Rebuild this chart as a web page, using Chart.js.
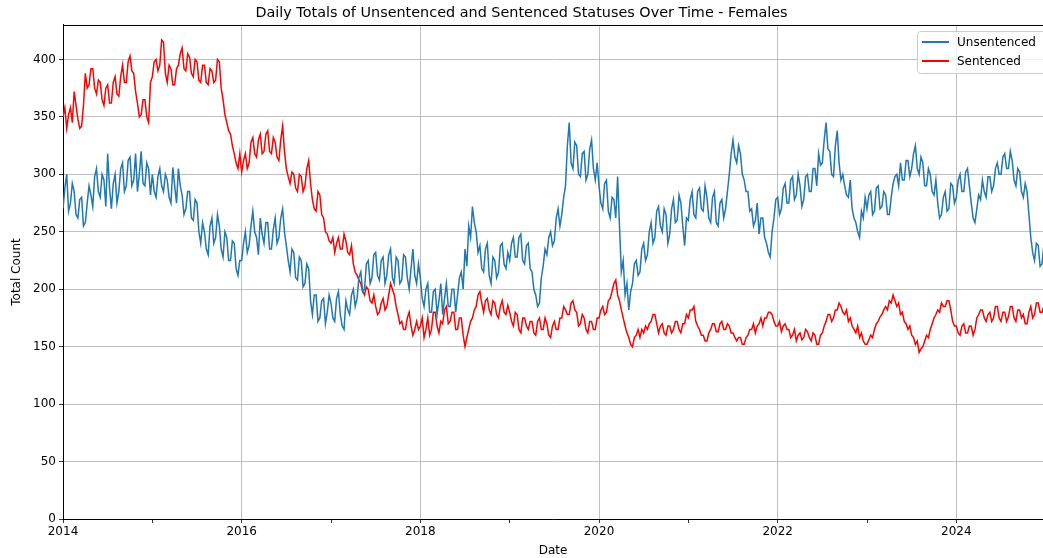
<!DOCTYPE html>
<html>
<head>
<meta charset="utf-8">
<script src="https://cdn.jsdelivr.net/npm/chart.js@4.4.1/dist/chart.umd.min.js"></script>
<style>
html,body{margin:0;padding:0;background:#fff;}
#wrap{position:relative;width:1043px;height:558px;}
</style>
</head>
<body>
<div id="wrap"><canvas id="c" width="1043" height="558"></canvas></div>
<script>
// ---- data: readings every ~1/48 year (about weekly), per calendar year ----
const years = [2014,2015,2016,2017,2018,2019,2020,2021,2022,2023,2024];
const tickYears = [2014,2016,2018,2020,2022,2024];
const yTicks = [0,50,100,150,200,250,300,350,400];
const readingsPerYear = 48;

const unsentenced2014 = [270,288,300,268,275,292,285,265,262,278,280,255,258,275,290,282,272,298,305,285,280,300,295,272,318,288,270,292,300,275,285,305,310,285,290,312,315,290,295,318,285,300,320,292,290,310,305,282];
const unsentenced2015 = [300,285,280,298,305,290,285,300,295,280,275,306,290,275,305,290,282,265,270,285,285,262,260,278,275,250,240,258,250,235,230,255,262,240,245,265,255,235,228,250,245,225,225,242,240,218,212,225];
const unsentenced2016 = [225,240,250,232,238,255,268,250,245,230,262,248,240,258,258,235,235,252,262,240,245,262,270,250,238,225,215,235,232,210,208,228,225,202,205,222,218,190,178,195,195,172,175,190,192,170,180,195];
const unsentenced2017 = [188,175,172,192,198,178,168,165,190,182,178,195,200,185,192,210,215,198,200,222,225,205,210,230,232,212,208,225,228,205,212,230,235,210,205,228,225,205,208,230,228,210,200,218,235,212,205,222];
const unsentenced2018 = [210,192,185,200,205,180,180,198,200,178,190,205,178,192,205,185,185,200,200,180,195,210,215,200,235,220,255,245,272,258,250,232,238,218,215,235,240,212,205,228,225,210,215,238,240,222,218,232];
const unsentenced2019 = [225,240,245,228,228,245,248,225,222,238,240,218,215,200,195,185,188,210,220,235,230,245,250,238,242,262,270,255,265,280,290,325,345,310,305,328,325,300,298,318,320,295,300,322,330,305,295,310];
const unsentenced2020 = [290,275,270,292,295,268,262,280,278,262,298,255,215,225,195,205,182,198,205,222,225,212,215,235,240,225,230,250,258,240,245,268,272,255,250,270,265,240,248,270,278,258,260,282,275,255,238,262];
const unsentenced2021 = [260,278,285,265,262,285,288,270,268,290,280,262,258,280,285,258,255,275,278,262,270,285,300,318,330,315,310,325,318,300,295,285,285,268,270,255,260,275,248,262,262,245,240,232,228,250,262,278];
const unsentenced2022 = [280,265,270,288,292,275,275,295,298,278,282,300,290,272,278,298,300,285,285,305,305,290,318,308,310,330,345,322,320,300,298,325,338,310,295,300,290,282,280,295,270,262,258,250,245,268,262,280];
const unsentenced2023 = [270,282,285,265,268,288,290,270,272,285,282,265,265,280,292,298,300,290,310,295,295,312,312,298,305,318,325,305,300,315,310,290,290,305,300,285,282,295,275,262,265,280,285,268,270,292,290,275];
const unsentenced2024 = [280,295,300,285,285,302,305,290,275,262,258,270,282,278,295,285,280,298,298,285,290,305,310,300,300,315,318,305,305,320,312,295,290,305,302,285,280,292,285,265,245,232,225,240,238,220,222,238,230];

const sentenced2014 = [350,358,340,352,358,345,372,360,348,340,342,360,388,375,378,392,392,375,370,382,380,365,360,375,378,362,362,380,385,370,368,385,395,380,380,398,403,390,388,372,362,350,352,365,365,350,345,380];
const sentenced2015 = [385,398,400,390,395,417,415,388,380,395,392,378,378,392,395,405,410,392,390,405,402,388,385,400,398,382,380,395,395,380,378,392,390,380,382,400,398,375,365,352,345,338,335,325,318,310,305,318];
const sentenced2016 = [302,312,318,305,310,328,332,318,315,330,335,318,320,335,338,320,318,332,328,315,312,330,342,320,305,298,292,302,300,288,285,300,298,285,290,305,312,292,278,270,268,285,282,265,262,250,248,242];
const sentenced2017 = [240,245,232,240,245,235,235,248,242,232,230,238,222,215,212,208,205,198,195,202,200,190,188,195,185,178,180,188,192,182,185,195,205,200,195,185,178,170,172,165,165,175,180,168,160,165,172,165];
const sentenced2018 = [168,175,158,165,175,160,165,180,180,168,162,172,170,182,185,170,172,180,180,165,165,175,175,160,150,158,165,172,175,182,185,195,198,188,180,190,192,182,178,190,188,178,175,185,190,180,178,186];
const sentenced2019 = [180,172,168,180,178,165,162,175,175,168,165,172,172,162,160,172,175,165,165,175,170,160,158,168,172,165,165,175,175,185,182,178,178,188,190,182,180,168,170,178,175,165,162,172,172,165,165,175];
const sentenced2020 = [175,182,185,178,180,190,192,198,205,208,195,190,182,175,168,162,158,152,150,158,160,165,158,165,162,168,165,170,172,178,178,170,162,168,170,162,160,168,168,162,165,172,172,165,162,170,170,178];
const sentenced2021 = [175,182,182,185,172,168,165,160,160,155,155,162,165,170,170,163,163,170,172,165,165,170,168,162,162,158,155,158,158,152,152,158,160,165,165,170,162,168,170,175,168,175,175,180,180,178,172,168];
const sentenced2022 = [168,172,163,168,170,165,165,158,160,165,155,160,162,156,158,165,163,158,155,162,160,152,152,160,162,168,172,178,178,172,175,182,182,188,185,180,178,182,172,175,168,165,162,168,158,162,155,152];
const sentenced2023 = [152,156,160,158,165,170,172,176,178,182,185,182,190,188,195,190,185,188,178,180,172,170,165,168,160,158,152,155,145,148,150,155,160,158,165,170,175,178,182,180,188,185,185,190,190,182,172,168];
const sentenced2024 = [168,162,160,168,170,162,162,168,168,160,165,175,178,182,182,175,172,178,180,172,175,185,185,175,172,180,180,172,176,185,185,175,172,182,182,175,178,170,170,180,185,175,178,188,188,180,180,185,178];

const unsentencedByYear = [unsentenced2014,unsentenced2015,unsentenced2016,unsentenced2017,unsentenced2018,unsentenced2019,unsentenced2020,unsentenced2021,unsentenced2022,unsentenced2023,unsentenced2024];
const sentencedByYear = [sentenced2014,sentenced2015,sentenced2016,sentenced2017,sentenced2018,sentenced2019,sentenced2020,sentenced2021,sentenced2022,sentenced2023,sentenced2024];

function toPoints(byYear){
  const pts = [];
  byYear.forEach((arr, k) => {
    arr.forEach((v, i) => pts.push({x: years[k] + i / readingsPerYear, y: v}));
  });
  return pts;
}

const FONT = "'DejaVu Sans', sans-serif";
const BLUE = '#1f77b4', RED = '#ff0000';

const framePlugin = {
  id: 'frame',
  afterDraw(chart){
    const {ctx, chartArea: a} = chart;
    ctx.save();
    ctx.strokeStyle = '#000'; ctx.lineWidth = 1;
    ctx.beginPath(); ctx.moveTo(a.left, a.top + 0.5); ctx.lineTo(a.right, a.top + 0.5); ctx.stroke();
    const bx = 917.5, by = 31.5, bw = 140, bh = 42, r = 3;
    ctx.fillStyle = 'rgba(255,255,255,0.8)';
    ctx.strokeStyle = '#cccccc';
    ctx.beginPath();
    ctx.moveTo(bx + r, by); ctx.lineTo(bx + bw - r, by); ctx.arcTo(bx + bw, by, bx + bw, by + r, r);
    ctx.lineTo(bx + bw, by + bh - r); ctx.arcTo(bx + bw, by + bh, bx + bw - r, by + bh, r);
    ctx.lineTo(bx + r, by + bh); ctx.arcTo(bx, by + bh, bx, by + bh - r, r);
    ctx.lineTo(bx, by + r); ctx.arcTo(bx, by, bx + r, by, r);
    ctx.closePath(); ctx.fill(); ctx.stroke();
    const items = [['Unsentenced', BLUE, 42], ['Sentenced', RED, 61]];
    ctx.font = '12px ' + FONT;
    ctx.textBaseline = 'middle';
    items.forEach(([label, col, y]) => {
      ctx.strokeStyle = col; ctx.lineWidth = 2;
      ctx.beginPath(); ctx.moveTo(922, y); ctx.lineTo(949, y); ctx.stroke();
      ctx.fillStyle = '#000';
      ctx.fillText(label, 957, y + 0.5);
    });
    ctx.restore();
  }
};

new Chart(document.getElementById('c'), {
  type: 'line',
  data: {
    datasets: [
      {label: 'Unsentenced', data: toPoints(unsentencedByYear), borderColor: BLUE, borderWidth: 1.5, pointRadius: 0, tension: 0, fill: false},
      {label: 'Sentenced', data: toPoints(sentencedByYear), borderColor: RED, borderWidth: 1.5, pointRadius: 0, tension: 0, fill: false}
    ]
  },
  options: {
    responsive: false,
    animation: false,
    events: [],
    layout: {padding: {left: 0, right: 0, top: 0, bottom: 0}},
    plugins: {
      legend: {display: false},
      tooltip: {enabled: false},
      title: {
        display: true,
        text: 'Daily Totals of Unsentenced and Sentenced Statuses Over Time - Females',
        color: '#000',
        font: {family: FONT, size: 14.4, weight: 'normal', lineHeight: 1.2},
        padding: {top: 4.5, bottom: 3.2}
      }
    },
    scales: {
      x: {
        type: 'linear',
        min: 2014,
        max: 2024.97,
        afterBuildTicks(scale){ scale.ticks = years.map(v => ({value: v})); },
        afterFit(scale){ scale.height = 39; },
        ticks: {
          autoSkip: false,
          maxRotation: 0,
          color: '#000',
          font: {family: FONT, size: 12},
          padding: 2,
          callback: (v) => tickYears.includes(v) ? String(v) : ''
        },
        grid: {
          color: (c) => (c.tick && tickYears.includes(c.tick.value)) ? '#b0b0b0' : 'rgba(0,0,0,0)',
          lineWidth: 0.8,
          tickColor: '#000',
          tickLength: 4,
          drawTicks: true
        },
        border: {color: '#000', width: 1},
        title: {display: true, text: 'Date', color: '#000', font: {family: FONT, size: 12}, padding: {top: 0, bottom: 0}}
      },
      y: {
        min: 0,
        max: 430,
        afterBuildTicks(scale){ scale.ticks = yTicks.map(v => ({value: v})); },
        afterFit(scale){ scale.width = 63; },
        ticks: {
          color: '#000',
          font: {family: FONT, size: 12},
          padding: 3
        },
        grid: {
          color: '#b0b0b0',
          lineWidth: 0.8,
          tickColor: '#000',
          tickLength: 4
        },
        border: {color: '#000', width: 1},
        title: {display: true, text: 'Total Count', color: '#000', font: {family: FONT, size: 12}, padding: {top: 10, bottom: 0}}
      }
    }
  },
  plugins: [framePlugin]
});
</script>
</body>
</html>
